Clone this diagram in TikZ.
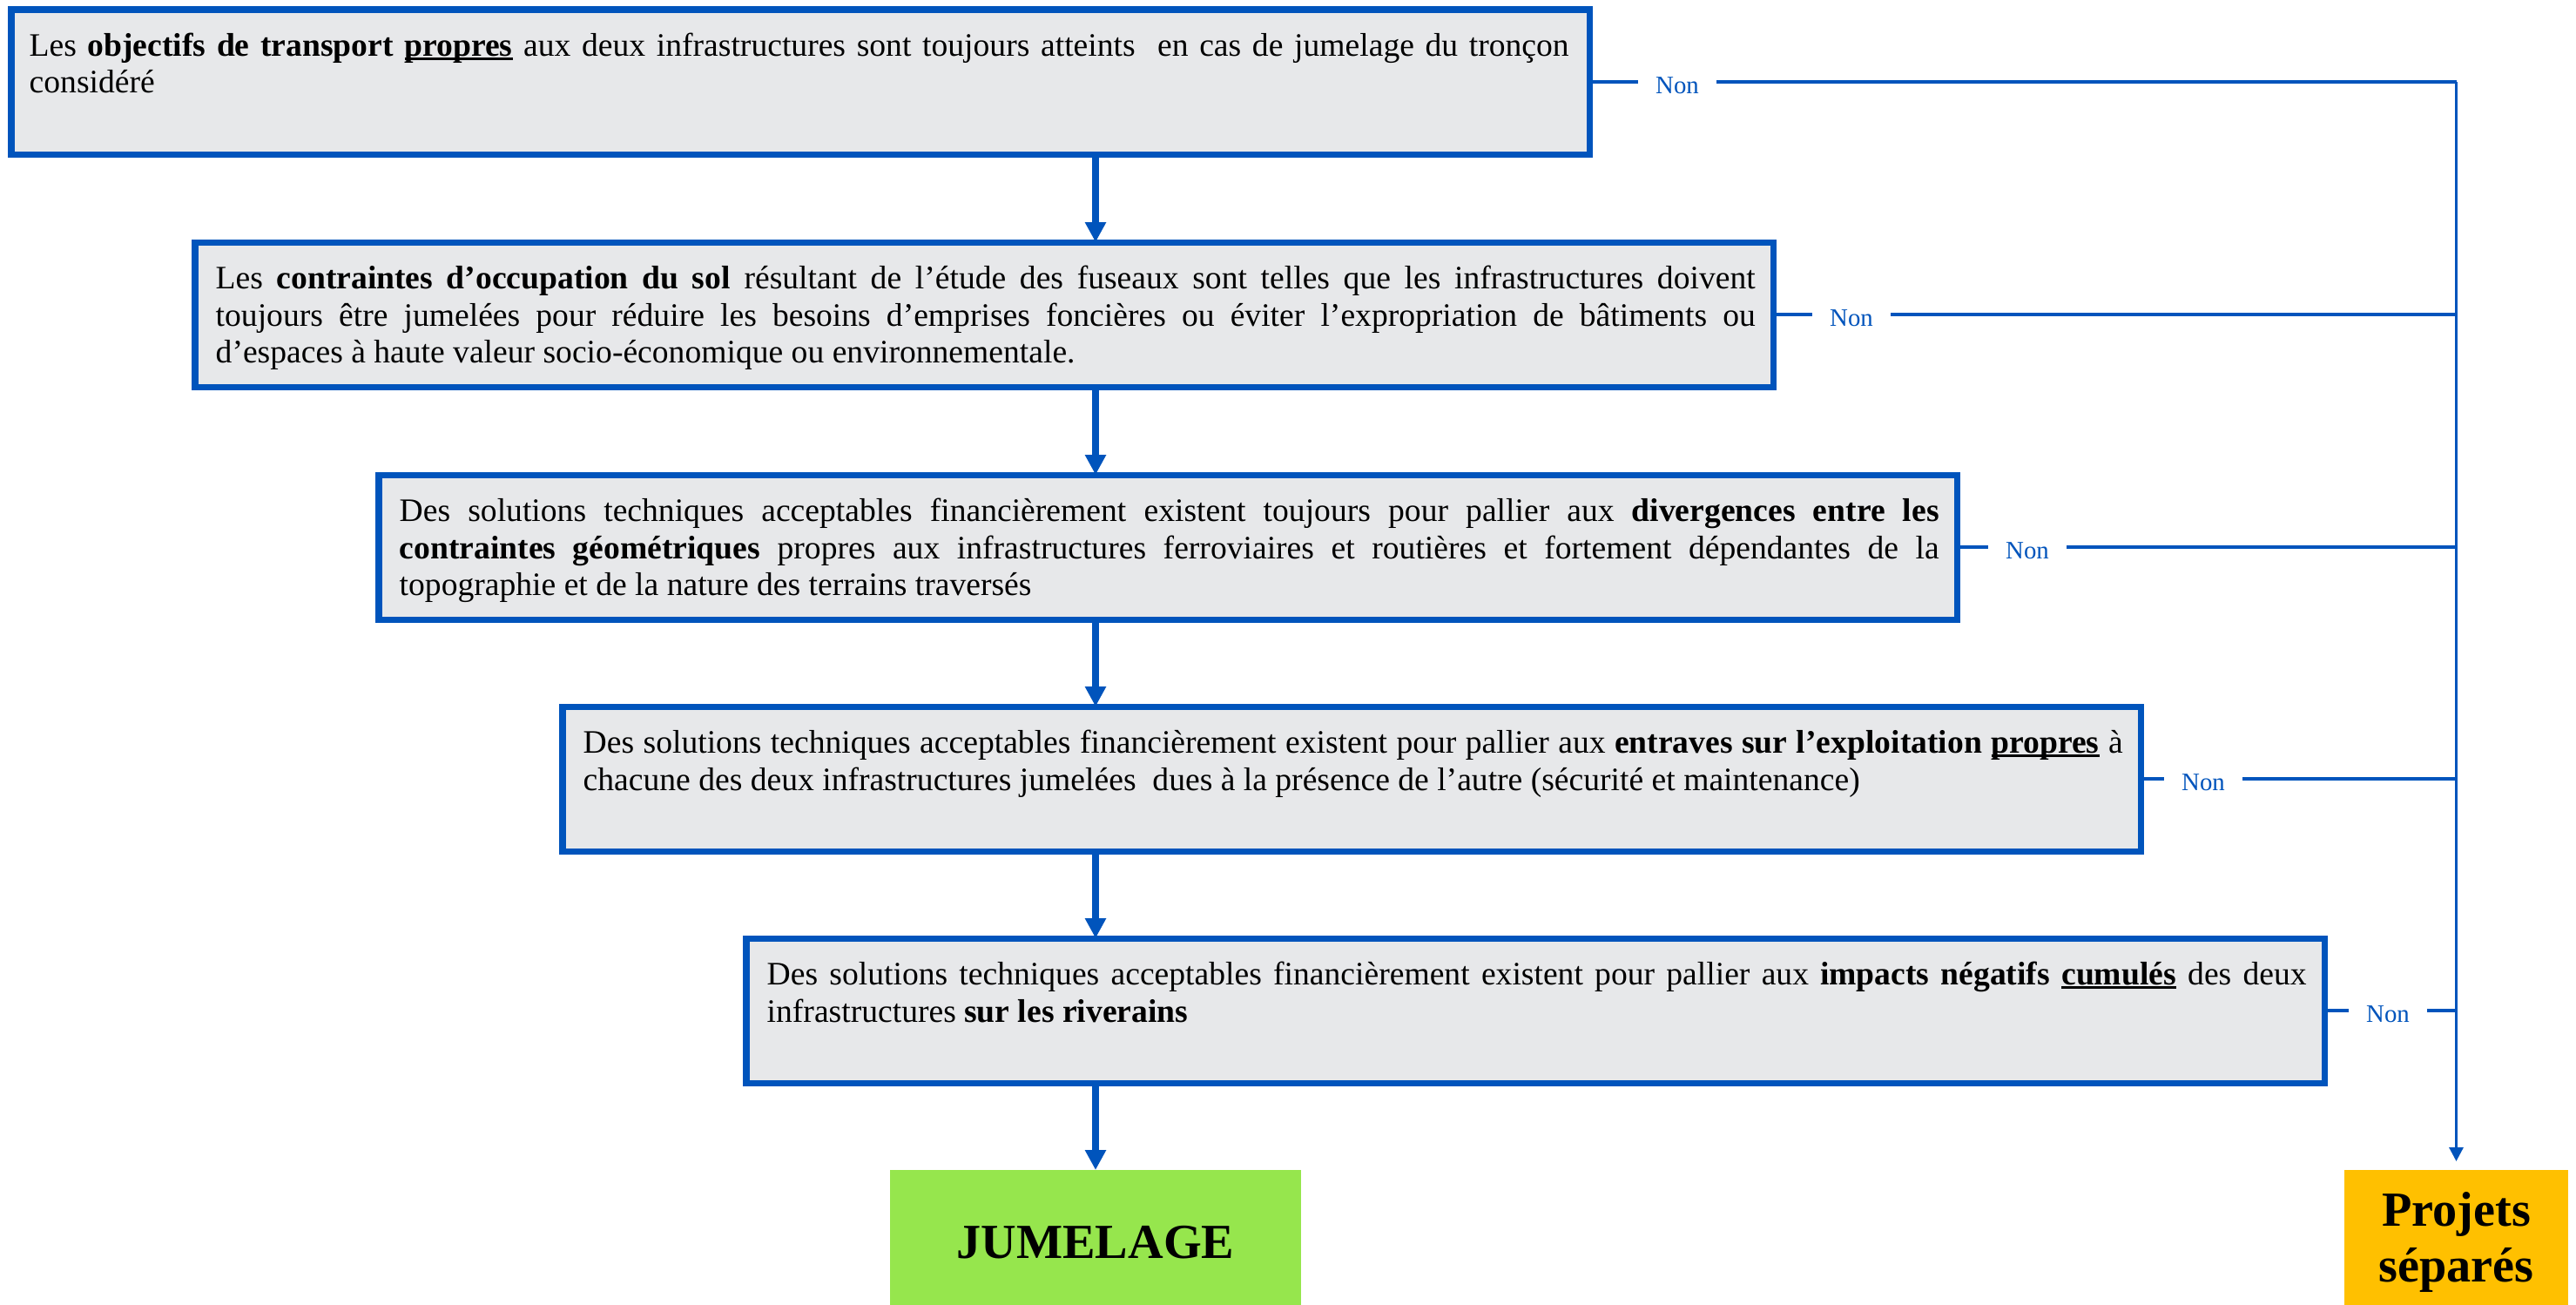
\documentclass[tikz,border=0pt]{standalone}
\usepackage{fontspec}
\setmainfont{Liberation Serif}
\usetikzlibrary{calc,arrows.meta}
\definecolor{lineblue}{RGB}{0,84,188}
\definecolor{boxgray}{RGB}{231,232,234}
\definecolor{jumgreen}{RGB}{150,230,77}
\definecolor{sepgold}{RGB}{255,192,0}
\newcommand\uu[1]{\setbox0\hbox{#1}\rlap{\rule[-1.3pt]{\wd0}{0.7pt}}\box0}
\newcommand\qfont{\fontsize{10.7pt}{12.23pt}\selectfont\hyphenpenalty10000\exhyphenpenalty10000\relax}
\tikzset{
  qbox/.style={draw=lineblue, line width=2pt, fill=boxgray, rectangle, anchor=north west,
    minimum width=18.12cm, minimum height=1.66cm, inner sep=0pt, outer sep=0pt},
  qtxt/.style={anchor=base west, text width=17.68cm, align=justify, inner sep=0pt,
    font=\qfont},
  nonlbl/.style={fill=white, text=lineblue, inner xsep=0.2cm, inner ysep=1pt, yshift=-0.04cm,
    font=\fontsize{8.2pt}{9pt}\selectfont},
  nonline/.style={draw=lineblue, line width=0.95pt},
  downarrow/.style={draw=lineblue, line width=2.3pt, -{Triangle[length=0.23cm,width=0.23cm]}},
  sidearrow/.style={draw=lineblue, line width=0.9pt, -{Triangle[length=0.16cm,width=0.16cm]}},
  endbox/.style={rectangle, inner sep=0pt, outer sep=0pt, align=center,
    font=\fontsize{16pt}{18pt}\selectfont\bfseries}
}
\begin{document}
\begin{tikzpicture}
\useasboundingbox (0,0) rectangle (29.58,-14.97);
% question boxes
\node[qbox] (b1) at (0.13,-0.11) {};
\node[qbox] (b2) at (2.24,-2.78) {};
\node[qbox] (b3) at (4.35,-5.45) {};
\node[qbox] (b4) at (6.46,-8.11) {};
\node[qbox] (b5) at (8.57,-10.77) {};
% texts
\node[qtxt] (t1) at ($(b1.north west)+(0.2,-0.53)$) {Les \textbf{objectifs de transport \uu{propres}} aux deux infrastructures sont toujours atteints~ en cas de jumelage du tronçon\linebreak considéré};
\node[qtxt] (t2) at ($(b2.north west)+(0.23,-0.53)$) {Les \textbf{contraintes d’occupation du sol} résultant de l’étude des fuseaux sont telles que les infrastructures doivent\linebreak toujours être jumelées pour réduire les besoins d’emprises foncières ou éviter l’expropriation de bâtiments ou\linebreak d’espaces à haute valeur socio-économique ou environnementale.};
\node[qtxt] (t3) at ($(b3.north west)+(0.23,-0.53)$) {Des solutions techniques acceptables financièrement existent toujours pour pallier aux \textbf{divergences entre les}\linebreak \textbf{contraintes géométriques} propres aux infrastructures ferroviaires et routières et fortement dépendantes de la\linebreak topographie et de la nature des terrains traversés};
\node[qtxt] (t4) at ($(b4.north west)+(0.23,-0.53)$) {Des solutions techniques acceptables financièrement existent pour pallier aux \textbf{entraves sur l’exploitation \uu{propres}} à\linebreak chacune des deux infrastructures jumelées~ dues à la présence de l’autre (sécurité et maintenance)};
\node[qtxt] (t5) at ($(b5.north west)+(0.23,-0.53)$) {Des solutions techniques acceptables financièrement existent pour pallier aux \textbf{impacts négatifs \uu{cumulés}} des deux\linebreak infrastructures \textbf{sur les riverains}};
% end boxes (extend below the page edge, as in the reference)
\node[endbox, fill=jumgreen, minimum width=4.72cm, minimum height=1.66cm] (jum) at (12.58,-14.26) {JUMELAGE};
\node[endbox, fill=sepgold, minimum width=2.57cm, minimum height=1.66cm] (sep) at (28.205,-14.26) {Projets\\séparés};
% down arrows
\draw[downarrow] (b1.south -| jum.north) -- (jum.north |- b2.north);
\draw[downarrow] (b2.south -| jum.north) -- (jum.north |- b3.north);
\draw[downarrow] (b3.south -| jum.north) -- (jum.north |- b4.north);
\draw[downarrow] (b4.south -| jum.north) -- (jum.north |- b5.north);
\draw[downarrow] (b5.south -| jum.north) -- (jum.north);
% Non connectors
\coordinate (v1) at (sep.north |- b1.east);
\coordinate (v2) at (sep.north |- b2.east);
\coordinate (v3) at (sep.north |- b3.east);
\coordinate (v4) at (sep.north |- b4.east);
\coordinate (v5) at (sep.north |- b5.east);
\draw[nonline] (b1.east) -- (v1);
\draw[nonline] (b2.east) -- (v2);
\draw[nonline] (b3.east) -- (v3);
\draw[nonline] (b4.east) -- (v4);
\draw[nonline] (b5.east) -- (v5);
\draw[sidearrow, shorten >=0.1cm] (v1) -- (sep.north);
\node[nonlbl] (n1) at (19.26,0 |- b1.east) {Non};
\node[nonlbl] (n2) at (21.26,0 |- b2.east) {Non};
\node[nonlbl] (n3) at (23.28,0 |- b3.east) {Non};
\node[nonlbl] (n4) at (25.30,0 |- b4.east) {Non};
\node[nonlbl] (n5) at (27.42,0 |- b5.east) {Non};
\end{tikzpicture}
\end{document}
